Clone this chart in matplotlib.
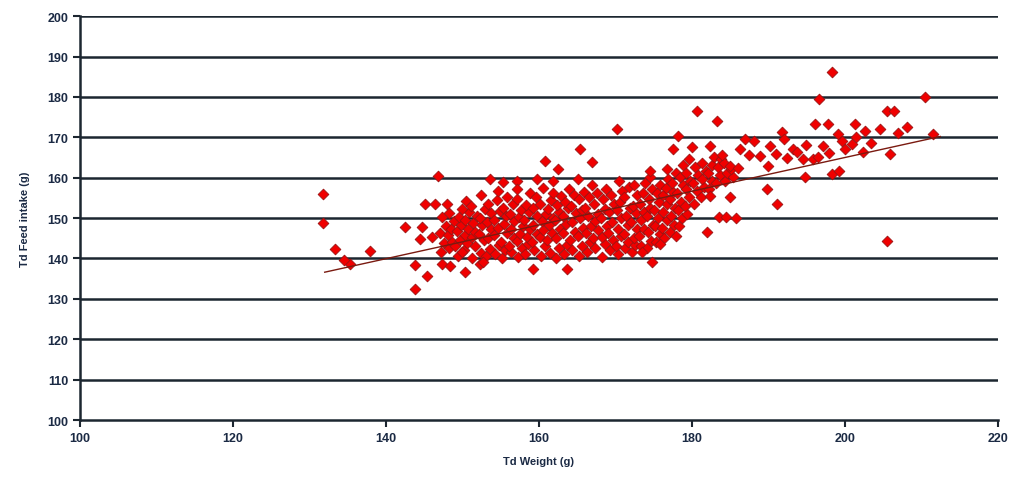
import matplotlib
matplotlib.use("Agg")
import matplotlib.pyplot as plt
import numpy as np

################################################
#           Donnees    #
################################################

# nuage principal
core = [
    (147.2, 141.5), (147.6, 143.8), (147.1, 146.2), (147.8, 148.1), (147.4, 150.3),
    (148.3, 142.6), (148.7, 144.1), (148.1, 145.7), (148.5, 147.3), (148.9, 149.2), (148.2, 151.2),
    (149.4, 140.7), (149.1, 143.2), (149.7, 144.6), (149.3, 146.8), (149.8, 148.3), (149.5, 150.2),
    (150.2, 142.1), (150.6, 143.9), (150.3, 145.8), (150.8, 147.2), (150.4, 149.6), (150.9, 151.4), (150.5, 154.2),
    (151.3, 140.2), (151.7, 143.1), (151.2, 145.2), (151.6, 146.6), (151.4, 148.7), (151.9, 150.4), (151.1, 153.1),
    (152.4, 141.3), (152.8, 144.6), (152.2, 146.1), (152.6, 148.2), (152.3, 150.1), (152.9, 152.2), (152.5, 155.6),
    (153.1, 140.6), (153.6, 142.4), (153.3, 145.1), (153.8, 147.2), (153.2, 149.1), (153.7, 151.2), (153.4, 153.6),
    (154.3, 141.2), (154.8, 143.4), (154.1, 145.9), (154.6, 147.6), (154.2, 149.4), (154.9, 151.7), (154.5, 154.4), (154.7, 156.6),
    (155.2, 140.1), (155.6, 142.2), (155.1, 144.1), (155.8, 146.4), (155.4, 148.6), (155.7, 150.6), (155.3, 152.4), (155.9, 155.1),
    (156.4, 141.6), (156.1, 143.2), (156.7, 145.1), (156.3, 147.3), (156.8, 149.2), (156.2, 151.1), (156.6, 153.4),
    (157.3, 140.4), (157.8, 142.6), (157.2, 144.4), (157.5, 146.1), (157.9, 148.1), (157.4, 150.2), (157.7, 152.1), (157.1, 154.6),
    (158.2, 141.1), (158.6, 143.6), (158.4, 145.4), (158.9, 147.2), (158.1, 149.6), (158.7, 151.4), (158.3, 153.2), (158.8, 156.1),
    (159.4, 142.2), (159.1, 144.1), (159.7, 146.1), (159.3, 148.4), (159.8, 150.6), (159.2, 152.6), (159.6, 155.2),
    (160.3, 140.6), (160.8, 143.1), (160.2, 145.2), (160.6, 147.1), (160.4, 149.2), (160.9, 151.1), (160.1, 153.6), (160.5, 157.4),
    (161.4, 141.4), (161.1, 144.6), (161.7, 146.4), (161.3, 148.2), (161.8, 150.1), (161.2, 152.2), (161.6, 154.4), (161.9, 156.1),
    (162.2, 140.2), (162.6, 142.6), (162.3, 145.1), (162.8, 147.4), (162.1, 149.6), (162.7, 151.6), (162.4, 153.2), (162.9, 155.4),
    (163.3, 141.1), (163.7, 143.4), (163.1, 146.2), (163.6, 148.6), (163.2, 150.4), (163.8, 152.6), (163.4, 154.1), (163.9, 157.1),
    (164.4, 142.1), (164.1, 144.6), (164.7, 146.6), (164.3, 149.1), (164.8, 151.2), (164.2, 153.1), (164.6, 155.6),
    (165.2, 140.6), (165.6, 143.1), (165.1, 145.6), (165.8, 147.6), (165.4, 150.1), (165.7, 152.1), (165.3, 154.6), (165.9, 156.4),
    (166.3, 141.6), (166.7, 144.1), (166.2, 146.2), (166.8, 148.1), (166.4, 150.6), (166.1, 152.4), (166.6, 155.1), (166.9, 158.1),
    (167.4, 142.6), (167.1, 145.1), (167.7, 147.1), (167.3, 149.2), (167.8, 151.1), (167.2, 153.6), (167.6, 156.1),
    (168.2, 140.4), (168.6, 143.6), (168.3, 145.4), (168.9, 148.1), (168.1, 150.1), (168.7, 152.2), (168.4, 154.6), (168.8, 157.1),
    (169.3, 142.1), (169.7, 144.6), (169.1, 146.4), (169.6, 149.1), (169.2, 151.6), (169.8, 153.4), (169.4, 155.6),
    (170.4, 141.1), (170.1, 143.2), (170.7, 145.6), (170.3, 147.4), (170.8, 150.1), (170.2, 152.1), (170.6, 154.1), (170.9, 156.6), (170.5, 159.1),
    (171.3, 142.6), (171.7, 144.1), (171.2, 146.1), (171.6, 148.2), (171.4, 150.6), (171.9, 152.6), (171.1, 155.1), (171.8, 157.6),
    (172.2, 141.6), (172.6, 143.4), (172.4, 145.1), (172.9, 147.2), (172.1, 149.1), (172.7, 151.2), (172.3, 153.1), (172.8, 155.6), (172.5, 158.1),
    (173.4, 143.1), (173.1, 145.6), (173.7, 147.4), (173.3, 149.6), (173.8, 151.4), (173.2, 153.6), (173.6, 156.1), (173.9, 158.6),
    (174.2, 142.6), (174.7, 144.4), (174.3, 146.6), (174.9, 148.4), (174.1, 150.6), (174.6, 152.4), (174.4, 154.6), (174.8, 157.1), (174.5, 160.1),
    (175.3, 144.1), (175.8, 146.1), (175.2, 148.1), (175.6, 150.1), (175.1, 152.1), (175.7, 154.1), (175.4, 156.1), (175.9, 158.1),
    (176.4, 145.1), (176.1, 147.6), (176.7, 149.4), (176.3, 151.6), (176.8, 153.4), (176.2, 155.6), (176.6, 157.4), (176.9, 159.6),
    (177.2, 146.6), (177.7, 148.4), (177.3, 150.6), (177.8, 152.4), (177.1, 154.6), (177.6, 156.4), (177.4, 158.6), (177.9, 161.1),
    (178.3, 148.1), (178.7, 150.1), (178.2, 152.1), (178.6, 154.1), (178.1, 156.1), (178.8, 158.1), (178.4, 160.1), (178.9, 163.1),
    (179.4, 151.1), (179.1, 153.1), (179.7, 155.1), (179.3, 157.1), (179.8, 159.1), (179.2, 161.1), (179.6, 164.6),
    (180.3, 153.6), (180.7, 156.6), (180.2, 158.6), (180.8, 160.6), (180.4, 162.6),
    (181.2, 155.1), (181.6, 157.6), (181.3, 159.6), (181.8, 161.6), (181.4, 163.6),
    (182.3, 157.1), (182.7, 159.1), (182.1, 161.1), (182.6, 163.1), (182.9, 165.1),
    (183.2, 158.6), (183.7, 160.6), (183.4, 162.6), (183.8, 164.6),
    (184.3, 159.1), (184.6, 161.1), (184.2, 163.6),
    (185.4, 160.1), (185.1, 162.1),
]

# points disperses
spread = [
    (131.8, 156.0), (131.8, 148.8), (133.3, 142.3), (135.3, 138.6), (134.5, 139.5),
    (137.9, 141.8), (143.8, 132.4), (145.4, 135.6), (143.8, 138.4), (146.8, 160.4),
    (145.1, 153.5), (146.4, 153.5), (148.0, 153.5), (142.5, 147.8), (144.7, 147.8),
    (144.4, 144.8), (146.0, 145.3), (147.3, 138.6), (148.4, 138.1), (150.3, 136.6),
    (150.0, 141.6), (150.0, 152.2), (152.3, 138.6),
    (170.2, 172.0), (165.4, 167.0), (160.8, 164.1), (162.5, 162.1), (167.0, 163.9),
    (153.6, 159.6), (155.3, 158.9), (157.1, 159.2), (159.7, 159.7), (161.8, 159.2),
    (165.1, 159.7), (157.1, 157.2), (159.2, 137.4), (163.7, 137.4), (152.7, 139.1),
    (180.7, 176.5), (183.3, 174.0), (178.2, 170.3), (180.0, 167.6), (182.4, 167.8),
    (177.5, 167.1), (186.9, 169.6), (188.2, 169.1), (191.8, 171.3), (190.2, 167.8),
    (186.3, 167.1), (193.2, 167.1), (174.5, 161.6), (176.7, 162.1), (188.9, 165.3),
    (190.0, 163.0), (185.0, 163.0), (189.8, 157.2), (191.1, 153.5), (185.0, 155.2),
    (182.4, 155.4), (183.5, 150.2), (184.5, 150.2), (185.8, 150.0), (182.0, 146.5),
    (178.0, 145.5), (175.8, 143.6), (173.5, 141.6), (174.8, 139.1),
    (198.4, 186.1), (196.7, 179.5), (210.5, 180.0), (205.5, 176.5), (206.5, 176.5),
    (196.1, 173.3), (197.8, 173.3), (201.3, 173.3), (202.6, 171.5), (204.6, 172.0),
    (208.1, 172.5), (211.5, 170.8), (199.1, 170.8), (199.7, 169.0), (200.9, 168.3),
    (197.1, 167.8), (193.7, 166.3), (194.5, 164.6), (195.8, 164.6), (202.4, 166.3),
    (205.9, 165.8), (198.3, 160.9), (199.3, 161.6), (194.8, 160.2), (205.5, 144.3),
    (187.5, 165.5), (191.0, 165.8), (192.5, 164.8), (196.5, 165.0), (198.0, 166.0),
    (200.0, 167.0), (203.5, 168.5), (201.5, 170.0), (207.0, 171.0), (195.0, 168.0),
    (192.0, 169.5), (184.0, 165.5), (186.0, 162.5),
]

core_weight = [p[0] for p in core]
core_intake = [p[1] for p in core]
spread_weight = [p[0] for p in spread]
spread_intake = [p[1] for p in spread]

# droite de tendance
trend_weight = [132.0, 212.5]
trend_intake = [136.6, 170.2]

x_ticks = [100, 120, 140, 160, 180, 200, 220]
y_ticks = [100, 110, 120, 130, 140, 150, 160, 170, 180, 190, 200]

################################################
#           Parti graphique                    #
################################################

plt.rcParams['font.family'] = ['Liberation Sans', 'DejaVu Sans']
navy = '#1b2a44'
grid = '#1c2630'

fig = plt.figure(figsize=(10.18, 4.89), dpi=100)
ax = fig.add_axes([0.0786, 0.139, 0.9014, 0.826])

for yv in y_ticks[1:]:
    ax.axhline(yv, color=grid, lw=1.8, zorder=1)

w = np.array(core_weight + spread_weight)
f = np.array(core_intake + spread_intake)
ax.scatter(w, f, marker='D', s=30, facecolor='#f00000', edgecolor='#9a1414',
           linewidths=0.6, zorder=3)
ax.plot(trend_weight, trend_intake, color='#7a1a10', lw=1.0, zorder=4)

ax.set_xlim(100, 220)
ax.set_ylim(100, 200)
ax.set_xticks(x_ticks)
ax.set_yticks(y_ticks)
ax.tick_params(axis='both', colors=grid, labelcolor=navy, labelsize=9,
               direction='out', length=5, width=1.5)
for lab in ax.get_xticklabels() + ax.get_yticklabels():
    lab.set_fontweight('bold')

ax.spines['top'].set_visible(False)
ax.spines['right'].set_visible(False)
ax.spines['left'].set_color(grid)
ax.spines['bottom'].set_color(grid)
ax.spines['left'].set_linewidth(1.8)
ax.spines['bottom'].set_linewidth(1.8)

ax.set_xlabel('Td Weight (g)', color=navy, fontsize=8, fontweight='bold', labelpad=9)
ax.set_ylabel('Td Feed intake (g)', color=navy, fontsize=8, fontweight='bold', labelpad=12)

fig.savefig('out.png', dpi=100)
